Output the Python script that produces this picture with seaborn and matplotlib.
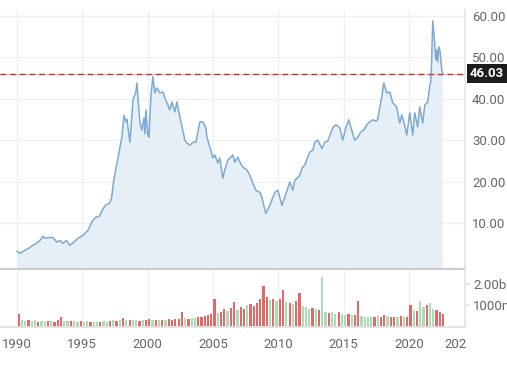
import matplotlib
matplotlib.use("Agg")
import pandas as pd
import seaborn as sns
import matplotlib.pyplot as plt

# Price series (fractional year, close)
price_years = [
    1990.00, 1990.23, 1990.60, 1991.00, 1991.20, 1991.50, 1991.76, 1992.00, 1992.15, 1992.45,
    1992.75, 1993.06, 1993.30, 1993.50, 1993.80, 1994.05, 1994.36, 1994.67, 1995.05, 1995.43,
    1995.80, 1996.04, 1996.30, 1996.60, 1996.80, 1997.10, 1997.25, 1997.35, 1997.57, 1997.73,
    1997.88, 1998.03, 1998.19, 1998.34, 1998.42, 1998.65, 1998.88, 1999.10, 1999.18, 1999.41,
    1999.56, 1999.72, 1999.79, 1999.87, 2000.02, 2000.10, 2000.25, 2000.40, 2000.56, 2000.71,
    2000.94, 2001.17, 2001.32, 2001.55, 2001.70, 2001.86, 2002.09, 2002.24, 2002.47, 2002.70,
    2002.85, 2003.00, 2003.24, 2003.47, 2003.70, 2003.85, 2004.00, 2004.23, 2004.46, 2004.54,
    2004.77, 2005.00, 2005.15, 2005.38, 2005.53, 2005.76, 2005.91, 2006.14, 2006.53, 2006.68,
    2006.91, 2007.06, 2007.29, 2007.60, 2007.83, 2008.06, 2008.29, 2008.59, 2008.75, 2009.05,
    2009.36, 2009.74, 2009.97, 2010.28, 2010.50, 2010.89, 2011.12, 2011.27, 2011.50, 2011.65,
    2011.81, 2012.04, 2012.26, 2012.42, 2012.65, 2012.80, 2013.03, 2013.34, 2013.57, 2013.80,
    2014.18, 2014.41, 2014.71, 2014.94, 2015.17, 2015.40, 2015.63, 2015.86, 2016.09, 2016.32,
    2016.55, 2016.78, 2017.00, 2017.24, 2017.47, 2017.62, 2017.77, 2017.93, 2018.08, 2018.31,
    2018.54, 2018.77, 2019.07, 2019.30, 2019.46, 2019.69, 2019.84, 2020.07, 2020.30, 2020.45,
    2020.68, 2020.83, 2021.06, 2021.22, 2021.45, 2021.60, 2021.68, 2021.75, 2021.83, 2021.91,
    2021.98, 2022.06, 2022.13, 2022.21, 2022.29, 2022.37, 2022.44, 2022.52, 2022.60,
]
price_values = [
    3.2, 2.7, 3.4, 4.1, 4.6, 5.1, 5.8, 6.8, 6.3, 6.5,
    6.5, 5.4, 5.8, 5.1, 5.8, 4.6, 5.4, 6.3, 7.0, 8.2,
    10.6, 11.4, 11.6, 13.5, 14.3, 14.8, 16.2, 19.0, 23.2, 25.5,
    28.3, 30.7, 36.0, 34.4, 35.0, 29.5, 39.7, 41.6, 43.8, 34.4,
    32.4, 35.3, 31.5, 37.3, 31.2, 30.7, 40.4, 45.3, 41.4, 42.6,
    41.4, 41.6, 40.2, 38.5, 37.3, 39.2, 36.8, 39.2, 35.6, 32.4,
    30.0, 29.3, 28.8, 29.5, 29.5, 32.0, 34.4, 34.4, 33.0, 30.7,
    28.3, 25.7, 26.4, 24.5, 25.7, 20.8, 22.8, 25.2, 26.4, 24.7,
    25.9, 24.7, 23.5, 22.8, 21.5, 19.6, 17.9, 17.4, 16.2, 12.3,
    14.3, 17.4, 17.9, 14.3, 16.2, 19.9, 17.9, 20.3, 21.0, 21.5,
    23.2, 24.0, 25.9, 27.1, 27.6, 29.5, 30.0, 28.0, 29.5, 29.8,
    33.0, 33.7, 33.0, 30.0, 33.0, 34.9, 32.4, 30.0, 30.7, 32.0,
    32.4, 33.7, 34.4, 34.9, 34.6, 35.0, 37.8, 40.4, 43.8, 41.4,
    41.6, 39.0, 38.0, 34.1, 36.1, 33.5, 31.2, 36.6, 31.2, 36.6,
    33.2, 38.0, 34.1, 38.5, 39.2, 43.3, 44.0, 49.4, 58.8, 55.9,
    53.5, 49.4, 51.8, 48.9, 52.5, 51.8, 49.9, 47.0, 46.03,
]
last_price = 46.03

# Quarterly volume in millions, starting 1990 Q1
vol_values = [
    620, 320, 260, 300, 280, 310, 250, 270, 240, 260, 280, 250,
    300, 480, 280, 260, 290, 260, 240, 270, 250, 260, 230, 240,
    220, 250, 260, 240, 280, 300, 290, 330, 430, 320, 300, 310,
    330, 280, 340, 310, 360, 300, 330, 310, 340, 310, 350, 330,
    360, 380, 670, 400, 390, 420, 400, 450, 480, 520, 560, 600,
    1290, 650, 700, 820, 760, 880, 1140, 800, 900, 850, 1000, 1050,
    950, 1100, 1300, 1900, 1400, 1250, 1300, 1200, 1300, 1700, 1150, 1100,
    1050, 1200, 1570, 950, 900, 850, 880, 820, 780, 2290, 700, 650,
    700, 620, 680, 600, 560, 580, 540, 560, 1190, 500, 460, 480,
    470, 450, 500, 480, 560, 520, 480, 460, 470, 500, 460, 480,
    1000, 800, 760, 1190, 900, 1000, 1100, 850, 780, 700, 620,
]
vol_dirs = (
    "duud" "uudu" "udud" "dduu" "duud" "uudu" "uduu" "dudu"
    "dudu" "udud" "dudu" "dudd" "dddu" "duud" "dddd" "dudd"
    "uddu" "ddud" "dddd" "dudu" "ddud" "uddu" "uudu" "duud"
    "uudu" "udud" "duuu" "udud" "dudd" "udud" "dudu" "uduu" "ddd"
)

x_ticks = [1990, 1995, 2000, 2005, 2010, 2015, 2020]
price_ticks = [10, 20, 30, 40, 50, 60]
vol_ticks = [1000, 2000]
vol_tick_labels = ["1000m", "2.00b"]

line_color = "#7caad3"
fill_color = "#e6eef6"
up_color = "#a3d8b0"
down_color = "#e05858"
text_color = "#666666"
grid_color = "#f0f0f0"
edge_color = "#cccccc"

sns.set_theme(style="white")
plt.rcParams["font.family"] = ["Roboto", "DejaVu Sans"]

df = pd.DataFrame({"year": price_years, "price": price_values})
vol = pd.DataFrame({"vol": vol_values, "dir": list(vol_dirs)})
vol["year"] = [1990 + q / 4 + 0.125 for q in range(len(vol))]

W, H = 507, 369
fig = plt.figure(figsize=(W / 100, H / 100), dpi=100)
ax = fig.add_axes([0, 1 - 269 / H, 465 / W, 259 / H])
axv = fig.add_axes([0, 1 - 327 / H, 465 / W, 57 / H], sharex=ax)

xmin, xmax = 1988.7, 2024.3
ymin, ymax = -1.1, 61.4

# Price panel
ax.fill_between(df["year"], df["price"], ymin, facecolor=fill_color, edgecolor="none", lw=0)
sns.lineplot(data=df, x="year", y="price", ax=ax, color=line_color, linewidth=1.1,
             estimator=None, sort=False)
ax.axhline(last_price, color="#f5b5b5", lw=1.0)
ax.axhline(last_price, color="#a84444", lw=1.0, dashes=(4, 3))
ax.set_xlim(xmin, xmax)
ax.set_ylim(ymin, ymax)
ax.set_yticks(price_ticks)
ax.set_yticklabels([f"{v:.2f}" for v in price_ticks])
ax.yaxis.tick_right()
ax.tick_params(axis="y", length=0, pad=5, labelsize=9.5, labelcolor=text_color)
ax.tick_params(axis="x", length=0, labelbottom=False)
ax.set_xticks(x_ticks)
ax.grid(True, color=grid_color, lw=1)
ax.set_xlabel("")
ax.set_ylabel("")
for s in ["top", "left"]:
    ax.spines[s].set_visible(False)
ax.spines["bottom"].set_color(edge_color)
ax.spines["bottom"].set_linewidth(1.5)
ax.spines["right"].set_color("#e6e6e6")

# Last price label
ax.text(1.011, last_price, f"{last_price:.2f}", transform=ax.get_yaxis_transform(),
        ha="left", va="center", color="white", fontsize=9.5, fontweight="bold",
        bbox=dict(boxstyle="square,pad=0.25", fc="#1c1c1c", ec="none"), clip_on=False)

# Volume panel
colors = [up_color if d == "u" else down_color for d in vol["dir"]]
axv.bar(vol["year"], vol["vol"], width=0.17, color=colors, alpha=0.9, lw=0)
axv.set_ylim(0, 2630)
axv.set_yticks(vol_ticks)
axv.set_yticklabels(vol_tick_labels)
axv.yaxis.tick_right()
axv.tick_params(axis="y", length=3, color="#e0e0e0", pad=3, labelsize=9.5, labelcolor=text_color)
axv.set_xticks(x_ticks)
axv.set_xticklabels([str(t) for t in x_ticks])
axv.tick_params(axis="x", length=5, color="#e0e0e0", pad=3, labelsize=9.5, labelcolor=text_color)
axv.xaxis.grid(True, color=grid_color, lw=1)
for s in ["top", "left"]:
    axv.spines[s].set_visible(False)
axv.spines["bottom"].set_color("#e0e0e0")
axv.spines["right"].set_color("#e6e6e6")
axv.text(2023.6, -0.2, "202", transform=axv.get_xaxis_transform(), ha="center", va="top",
         fontsize=9.5, color=text_color)

fig.savefig("out.png", dpi=100)
